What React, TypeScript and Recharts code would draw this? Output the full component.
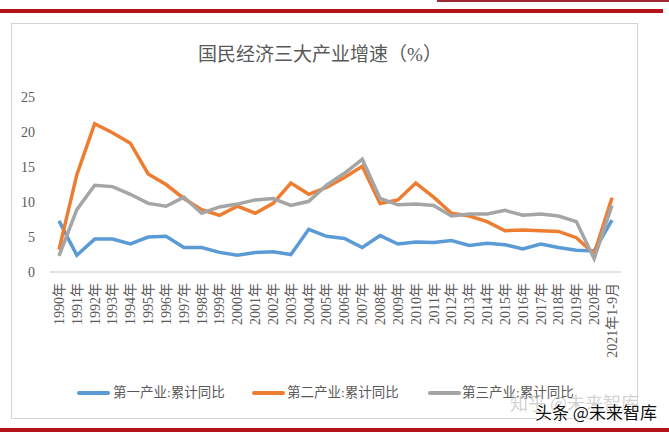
import { Line, LineChart, XAxis, YAxis } from "recharts";

const years = [
  "1990年", "1991年", "1992年", "1993年", "1994年", "1995年", "1996年", "1997年",
  "1998年", "1999年", "2000年", "2001年", "2002年", "2003年", "2004年", "2005年",
  "2006年", "2007年", "2008年", "2009年", "2010年", "2011年", "2012年", "2013年",
  "2014年", "2015年", "2016年", "2017年", "2018年", "2019年", "2020年", "2021年1-9月",
];

const primary = [
  7.3, 2.4, 4.7, 4.7, 4.0, 5.0, 5.1, 3.5, 3.5, 2.8, 2.4, 2.8, 2.9, 2.5, 6.1, 5.1,
  4.8, 3.5, 5.2, 4.0, 4.3, 4.2, 4.5, 3.8, 4.1, 3.9, 3.3, 4.0, 3.5, 3.1, 3.0, 7.4,
];

const secondary = [
  3.2, 13.9, 21.2, 19.9, 18.4, 14.0, 12.5, 10.5, 8.9, 8.1, 9.4, 8.4, 9.8, 12.7, 11.1, 12.1,
  13.5, 15.1, 9.8, 10.3, 12.7, 10.7, 8.4, 8.0, 7.2, 5.9, 6.0, 5.9, 5.8, 4.9, 2.6, 10.6,
];

const tertiary = [
  2.3, 8.9, 12.4, 12.2, 11.1, 9.8, 9.4, 10.7, 8.4, 9.3, 9.7, 10.3, 10.5, 9.5, 10.1, 12.4,
  14.1, 16.1, 10.5, 9.6, 9.7, 9.5, 8.0, 8.3, 8.3, 8.8, 8.1, 8.3, 8.0, 7.2, 1.9, 9.5,
];

const yTicks = [0, 5, 10, 15, 20, 25];

const seriesNames = ["第一产业:累计同比", "第二产业:累计同比", "第三产业:累计同比"];
const seriesColors = ["#5b9bd5", "#ed7d31", "#a5a5a5"];

const data = years.map((year, i) => ({
  year,
  primary: primary[i],
  secondary: secondary[i],
  tertiary: tertiary[i],
}));

const textGray = "#595959";
const fontStack = '"Liberation Serif", "Noto Sans CJK SC", serif';

const YearTick = (props: any) => {
  const { x, y, payload } = props;
  return (
    <g transform={`translate(${x},${y})`}>
      <text
        transform="rotate(-90)"
        x={-3}
        y={0}
        dy="0.35em"
        textAnchor="end"
        fill={textGray}
        fontSize={14}
        fontFamily={fontStack}
      >
        {payload.value}
      </text>
    </g>
  );
};

const legendPos = [
  { line: 77, text: 113 },
  { line: 252, text: 287 },
  { line: 428, text: 462 },
];

export default function App() {
  return (
    <div
      style={{
        position: "absolute",
        left: 0,
        top: 0,
        width: 669,
        height: 432,
        background: "#fff",
        overflow: "hidden",
      }}
    >
      {/* red rules top and bottom */}
      <div style={{ position: "absolute", left: 437, top: 0, width: 232, height: 2, background: "#9e2a32" }} />
      <div style={{ position: "absolute", left: 0, top: 9, width: 663, height: 4, background: "#b5121b" }} />
      <div style={{ position: "absolute", left: 0, top: 428, width: 669, height: 4, background: "#b5121b" }} />

      {/* chart frame */}
      <div
        style={{
          position: "absolute",
          left: 11,
          top: 23,
          width: 625,
          height: 394,
          border: "1px solid #d4d4d4",
        }}
      />

      <div
        style={{
          position: "absolute",
          left: 0,
          width: 640,
          top: 43,
          textAlign: "center",
          fontFamily: fontStack,
          fontSize: 19,
          color: textGray,
          lineHeight: "24px",
        }}
      >
        国民经济三大产业增速（%）
      </div>

      <div style={{ position: "absolute", left: 0, top: 0 }}>
        <LineChart
          width={669}
          height={432}
          data={data}
          margin={{ top: 97, right: 48, bottom: 130, left: 0 }}
        >
          <XAxis
            dataKey="year"
            interval={0}
            height={30}
            padding={{ left: 9, right: 9 }}
            axisLine={{ stroke: "#d9d9d9", strokeWidth: 1.5 }}
            tickLine={false}
            tick={<YearTick />}
          />
          <YAxis
            width={50}
            domain={[0, 25]}
            ticks={yTicks}
            axisLine={false}
            tickLine={false}
            tickMargin={9}
            tick={{ fill: textGray, fontSize: 14, fontFamily: fontStack }}
          />
          <Line
            dataKey="primary"
            name={seriesNames[0]}
            stroke={seriesColors[0]}
            strokeWidth={3.5}
            dot={false}
            type="linear"
            isAnimationActive={false}
          />
          <Line
            dataKey="secondary"
            name={seriesNames[1]}
            stroke={seriesColors[1]}
            strokeWidth={3.5}
            dot={false}
            type="linear"
            isAnimationActive={false}
          />
          <Line
            dataKey="tertiary"
            name={seriesNames[2]}
            stroke={seriesColors[2]}
            strokeWidth={3.5}
            dot={false}
            type="linear"
            isAnimationActive={false}
          />
        </LineChart>
      </div>

      {/* legend */}
      {seriesNames.map((name, i) => (
        <div key={name}>
          <div
            style={{
              position: "absolute",
              left: legendPos[i].line,
              top: 391,
              width: 33,
              height: 4,
              borderRadius: 2,
              background: seriesColors[i],
            }}
          />
          <div
            style={{
              position: "absolute",
              left: legendPos[i].text,
              top: 384,
              fontFamily: fontStack,
              fontSize: 13.5,
              lineHeight: "18px",
              color: textGray,
              whiteSpace: "nowrap",
            }}
          >
            {name}
          </div>
        </div>
      ))}

      {/* watermarks */}
      <div
        style={{
          position: "absolute",
          left: 510,
          top: 391,
          fontFamily: '"Noto Sans CJK SC", sans-serif',
          fontSize: 18,
          lineHeight: "22px",
          color: "rgba(180,180,180,0.6)",
          whiteSpace: "nowrap",
        }}
      >
        知乎 @未来智库
      </div>
      <div
        style={{
          position: "absolute",
          left: 535,
          top: 401,
          fontFamily: '"Noto Sans CJK SC", sans-serif',
          fontSize: 17,
          lineHeight: "22px",
          color: "#111",
          whiteSpace: "nowrap",
          textShadow: "1px 0 #fff, -1px 0 #fff, 0 1px #fff, 0 -1px #fff",
        }}
      >
        头条 @未来智库
      </div>
    </div>
  );
}
